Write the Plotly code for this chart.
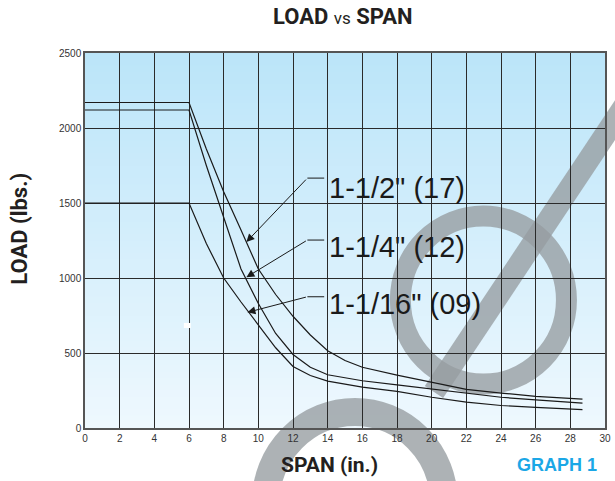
import plotly.graph_objects as go

# Load capacity (lbs.) against span (in.) for three channel depths
span_17 = [0, 6, 7, 8, 9, 10, 11, 12, 13, 14, 15, 16, 18, 20, 22, 24, 26, 28.7]
load_17 = [2170, 2170, 1860, 1575, 1320, 1060, 890, 745, 620, 515, 450, 405, 352, 305, 258, 233, 211, 192]

span_12 = [0, 6, 7, 8, 9, 10, 11, 12, 13, 14, 16, 18, 20, 22, 24, 26, 28.7]
load_12 = [2120, 2120, 1750, 1400, 1060, 830, 630, 490, 405, 355, 315, 288, 260, 228, 205, 187, 166]

span_09 = [0, 6, 7, 8, 9, 10, 11, 12, 13, 14, 16, 18, 20, 22, 24, 26, 28.7]
load_09 = [1500, 1500, 1230, 1000, 840, 685, 535, 410, 350, 313, 273, 244, 205, 172, 150, 137, 122]

series_labels = ['1-1/2" (17)', '1-1/4" (12)', '1-1/16" (09)']
# leader lines: elbow height and arrow tip on each curve
leader_y = [1666, 1253, 875]
arrow_tip = [(9.31, 1240), (9.31, 1005), (9.37, 771)]
label_y = [1600, 1207, 828]

x_ticks = list(range(0, 31, 2))
y_ticks = [0, 500, 1000, 1500, 2000, 2500]

W, H = 615, 481
L, R, T, B = 85, 611, 53, 428

BOLD = "Roboto, Liberation Sans, Arial"
SANS = "Liberation Sans, Arial, Helvetica"


def px(xp, yp):
    """pixel position -> paper coordinates"""
    return (xp - L) / (R - L), (B - yp) / (B - T)


def ring(cx, cy, r, width, color):
    x0, y0 = px(cx - r, cy + r)
    x1, y1 = px(cx + r, cy - r)
    return dict(type="circle", xref="paper", yref="paper", x0=x0, y0=y0, x1=x1, y1=y1,
                line=dict(color=color, width=width), fillcolor="rgba(0,0,0,0)", layer="below")


fig = go.Figure()

shapes = []
# vertical light-blue gradient behind the grid
n_bands = 60
top_c = (187, 229, 249)
bot_c = (238, 248, 254)
for i in range(n_bands):
    f = i / (n_bands - 1)
    c = tuple(round(bot_c[k] + (top_c[k] - bot_c[k]) * f) for k in range(3))
    shapes.append(dict(type="rect", xref="paper", yref="paper",
                       x0=0, x1=1, y0=i / n_bands, y1=(i + 1) / n_bands + 0.002,
                       fillcolor="rgb(%d,%d,%d)" % c, line_width=0, layer="below"))

# grey diameter-sign watermark
wm = "rgba(150,156,160,0.78)"
shapes.append(ring(488, 300, 84, 21, wm))
sx0, sy0 = px(438, 392)
sx1, sy1 = px(640, 92)
shapes.append(dict(type="line", xref="paper", yref="paper", x0=sx0, y0=sy0, x1=sx1, y1=sy1,
                   line=dict(color=wm, width=22), layer="below"))
# arch at the bottom edge
shapes.append(ring(358, 502, 90, 28, wm))

# small white speck
wx0, wy0 = px(185, 328)
wx1, wy1 = px(192, 323)
shapes.append(dict(type="rect", xref="paper", yref="paper", x0=wx0, y0=wy0, x1=wx1, y1=wy1,
                   fillcolor="white", line_width=0, layer="above"))

for sp, ld in [(span_17, load_17), (span_12, load_12), (span_09, load_09)]:
    fig.add_trace(go.Scatter(x=sp, y=ld, mode="lines",
                             line=dict(color="#1a1a1a", width=1.2),
                             showlegend=False, hoverinfo="skip"))

annotations = []
for lab, ly, ty, (tx, tyy) in zip(series_labels, leader_y, label_y, arrow_tip):
    shapes.append(dict(type="line", xref="x", yref="y", x0=12.83, x1=13.8, y0=ly, y1=ly,
                       line=dict(color="#1a1a1a", width=1), layer="above"))
    annotations.append(dict(x=tx, y=tyy, ax=12.83, ay=ly, axref="x", ayref="y",
                            xref="x", yref="y", text="", showarrow=True,
                            arrowhead=2, arrowsize=1.6, arrowwidth=1, arrowcolor="#1a1a1a",
                            standoff=0, startstandoff=0))
    annotations.append(dict(x=13.95, y=ty, xref="x", yref="y", text=lab, showarrow=False,
                            xanchor="left", yanchor="middle",
                            font=dict(family=SANS, size=29, color="#1a1a1a")))

annotations += [
    dict(text="<b>LOAD</b> <span style='font-size:17px'>vs</span> <b>SPAN</b>",
         xref="paper", yref="paper", x=px(345, 0)[0], y=px(0, 17)[1],
         showarrow=False, xanchor="center", yanchor="middle",
         font=dict(family=BOLD, size=22, color="#231f20")),
    dict(text="<b>LOAD (lbs.)</b>", xref="paper", yref="paper",
         x=px(18, 0)[0], y=px(0, 229)[1], textangle=-90, showarrow=False,
         xanchor="center", yanchor="middle",
         font=dict(family=BOLD, size=22, color="#231f20")),
    dict(text="<b>SPAN (in.)</b>", xref="paper", yref="paper",
         x=px(332, 0)[0], y=px(0, 465)[1], showarrow=False,
         xanchor="center", yanchor="middle",
         font=dict(family=BOLD, size=21, color="#231f20")),
    dict(text="<b>GRAPH 1</b>", xref="paper", yref="paper",
         x=px(562, 0)[0], y=px(0, 465)[1], showarrow=False,
         xanchor="center", yanchor="middle",
         font=dict(family=SANS, size=18, color="#1ba7e6")),
]

axis_common = dict(showgrid=True, gridcolor="#2a2a2a", gridwidth=1.3,
                   zeroline=False, showline=True, linecolor="#555555", linewidth=1.5,
                   mirror=True, ticks="", tickfont=dict(family=SANS, size=10, color="#333333"))

fig.update_layout(
    width=W, height=H,
    margin=dict(l=L, r=W - R, t=T, b=H - B, pad=0),
    paper_bgcolor="white", plot_bgcolor="white",
    xaxis=dict(range=[0, 30], tickvals=x_ticks, **axis_common),
    yaxis=dict(range=[0, 2500], tickvals=y_ticks, **axis_common),
    shapes=shapes, annotations=annotations,
    showlegend=False,
)

fig.write_html("out.html")
